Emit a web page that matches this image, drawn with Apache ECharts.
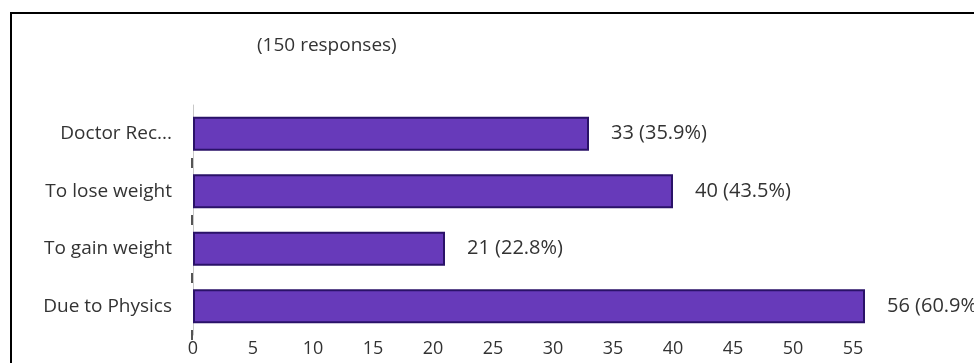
<!DOCTYPE html>
<html>
<head>
<meta charset="utf-8">
<script src="https://cdn.jsdelivr.net/npm/echarts@6/dist/echarts.min.js"></script>
<style>
  html, body { margin: 0; padding: 0; background: #fff; }
  #chart { width: 974px; height: 363px; }
</style>
</head>
<body>
<div id="chart"></div>
<script>
// Survey answers, top to bottom
const categories = ['Doctor Rec...', 'To lose weight', 'To gain weight', 'Due to Physics'];
const counts = [33, 40, 21, 56];
const percents = ['35.9', '43.5', '22.8', '60.9'];
const subtitle = '(150 responses)';

const FONT = '"Open Sans", sans-serif';
const TEXT = '#333333';

const chart = echarts.init(document.getElementById('chart'), null, { renderer: 'canvas' });

chart.setOption({
  animation: false,
  backgroundColor: '#ffffff',
  graphic: [
    {
      type: 'rect',
      shape: { x: 11, y: 13, width: 1000, height: 400 },
      style: { fill: 'none', stroke: '#000000', lineWidth: 2 },
      z: 10
    },
    {
      type: 'text',
      left: 257,
      top: 36,
      style: { text: subtitle, font: '19px ' + FONT, fill: TEXT }
    }
  ],
  grid: { left: 193, right: 109, top: 105, bottom: 28 },
  xAxis: {
    type: 'value',
    min: 0,
    max: 56,
    interval: 5,
    axisLine: { show: false },
    axisTick: { show: false },
    splitLine: { show: false },
    axisLabel: {
      showMaxLabel: false,
      color: TEXT,
      fontFamily: FONT,
      fontSize: 18,
      margin: 5
    }
  },
  yAxis: {
    type: 'category',
    inverse: true,
    data: categories,
    axisLine: { show: true, lineStyle: { color: '#c8c8c8', width: 1 } },
    axisTick: {
      show: true,
      // short dark marks only between neighbouring bars
      interval: function (index) { return index > 0 && index < categories.length; },
      length: 2,
      inside: false,
      lineStyle: { color: '#555555', width: 10 }
    },
    axisLabel: {
      color: TEXT,
      fontFamily: FONT,
      fontSize: 19,
      margin: 21
    }
  },
  series: [{
    type: 'bar',
    data: counts,
    barWidth: 34,
    itemStyle: {
      color: '#673aba',
      borderColor: '#2a1268',
      borderWidth: 2
    },
    label: {
      show: true,
      position: 'right',
      distance: 22,
      color: TEXT,
      fontFamily: FONT,
      fontSize: 20,
      formatter: p => p.value + ' (' + percents[p.dataIndex] + '%)'
    }
  }]
});
</script>
</body>
</html>
